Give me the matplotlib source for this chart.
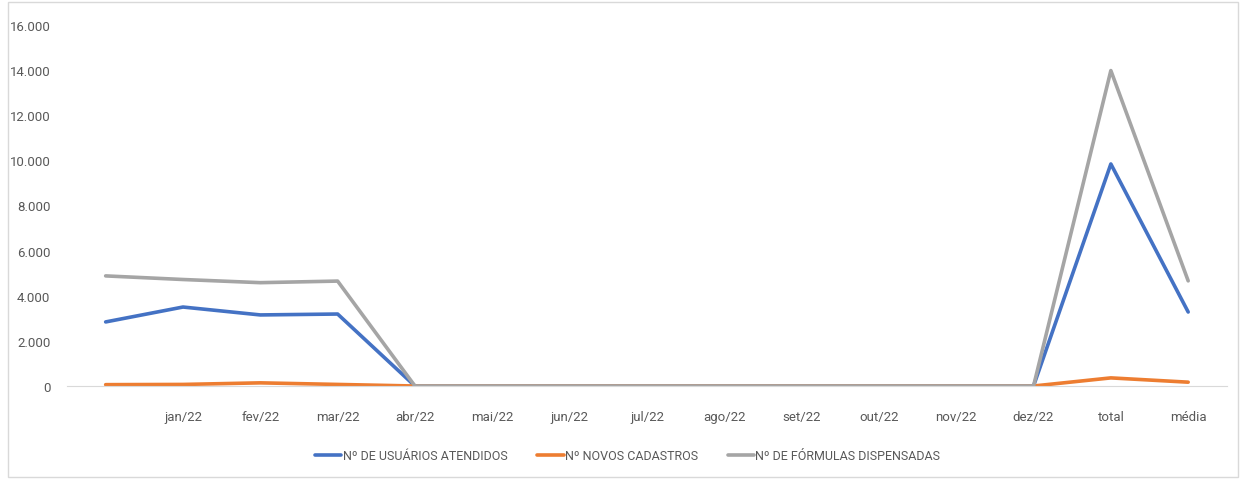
import numpy as np
import matplotlib.pyplot as plt
from matplotlib.patches import Rectangle
from matplotlib.ticker import FuncFormatter

plt.rcParams['font.family'] = ['Liberation Sans Narrow', 'Roboto', 'DejaVu Sans']

categories = ['', 'jan/22', 'fev/22', 'mar/22', 'abr/22', 'mai/22', 'jun/22', 'jul/22',
              'ago/22', 'set/22', 'out/22', 'nov/22', 'dez/22', 'total', 'média']
usuarios = [2840, 3500, 3150, 3190, 0, 0, 0, 0, 0, 0, 0, 0, 0, 9840, 3280]
cadastros = [60, 70, 140, 70, 0, 0, 0, 0, 0, 0, 0, 0, 0, 360, 170]
formulas = [4880, 4720, 4580, 4650, 0, 0, 0, 0, 0, 0, 0, 0, 0, 13980, 4660]

series = [
    ('Nº DE USUÁRIOS ATENDIDOS', usuarios, '#4472C4'),
    ('Nº NOVOS CADASTROS', cadastros, '#ED7D31'),
    ('Nº DE FÓRMULAS DISPENSADAS', formulas, '#A5A5A5'),
]

fig = plt.figure(figsize=(12.43, 4.81), dpi=100)
ax = fig.add_axes([0.0539, 0.1954, 0.9331, 0.7506])

x = np.arange(len(categories))
for name, vals, color in series:
    ax.plot(x, vals, color=color, lw=2.6, label=name, solid_capstyle='round')

ax.set_xlim(-0.5, len(categories) - 0.5)
ax.set_ylim(0, 16000)
ax.set_yticks(np.arange(0, 16001, 2000))
ax.yaxis.set_major_formatter(FuncFormatter(lambda v, p: f'{int(v):,}'.replace(',', '.')))
ax.set_xticks(x)
ax.set_xticklabels(categories)

for s in ['top', 'right', 'left']:
    ax.spines[s].set_visible(False)
ax.spines['bottom'].set_color('#D9D9D9')
ax.tick_params(axis='both', length=0, labelsize=9.5, colors='#595959')
ax.tick_params(axis='x', pad=17)
ax.tick_params(axis='y', pad=12)

fig.legend(loc='center', bbox_to_anchor=(0.505, 0.05), ncol=3, frameon=False,
           fontsize=9, labelcolor='#595959', handlelength=2.1, handletextpad=0.1,
           columnspacing=2.4)

fig.patches.append(Rectangle((8 / 1243, 3 / 481), 1230 / 1243, 475 / 481,
                             transform=fig.transFigure, fill=False,
                             edgecolor='#D9D9D9', lw=1))

fig.savefig('out.png', dpi=100)
